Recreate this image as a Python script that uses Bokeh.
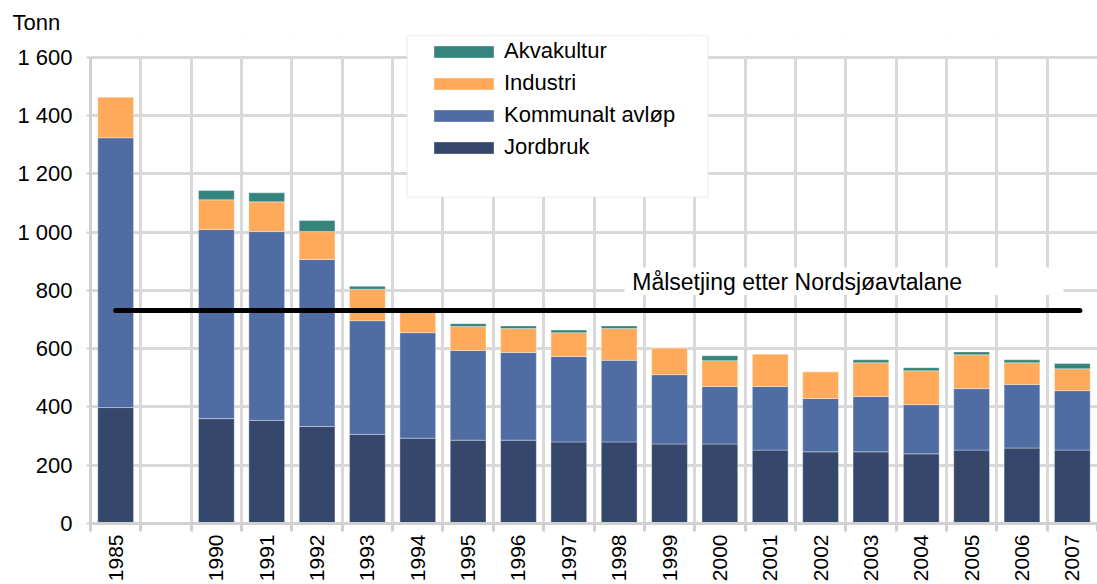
import math
from bokeh.plotting import figure
from bokeh.models import (FixedTicker, Legend, LegendItem, Label, BoxAnnotation,
                          Range1d, ColumnDataSource)
from bokeh.embed import file_html
from bokeh.resources import INLINE

# ---- data (tonn) ----
years = ["1985", "", "1990", "1991", "1992", "1993", "1994", "1995", "1996", "1997",
         "1998", "1999", "2000", "2001", "2002", "2003", "2004", "2005", "2006", "2007"]
jordbruk = [398, 0, 360, 354, 333, 306, 293, 286, 286, 280,
            280, 273, 273, 252, 246, 246, 239, 252, 259, 252]
kommunalt = [926, 0, 649, 648, 573, 390, 362, 308, 301, 293,
             280, 238, 197, 218, 183, 190, 169, 211, 218, 204]
industri = [140, 0, 102, 102, 96, 108, 71, 82, 82, 82,
            109, 92, 89, 112, 92, 116, 116, 116, 75, 75]
akvakultur = [0, 0, 32, 31, 38, 10, 0, 10, 9, 9,
              9, 0, 17, 0, 0, 10, 11, 10, 10, 18]
target = 731
target_label = "Målsetjing etter Nordsjøavtalane"
unit_label = "Tonn"
series = ["Jordbruk", "Kommunalt avløp", "Industri", "Akvakultur"]
colors = ["#35476b", "#4f6ca3", "#ffaa5a", "#35847e"]
y_ticks = [0, 200, 400, 600, 800, 1000, 1200, 1400, 1600]
y_tick_labels = ["0", "200", "400", "600", "800", "1 000", "1 200", "1 400", "1 600"]

FONT = "Liberation Sans"
GRID = "#d9d9d9"
AXIS = "#d0d0d0"

pos = list(range(len(years)))
src = ColumnDataSource(dict(x=pos, Jordbruk=jordbruk, **{"Kommunalt avløp": kommunalt},
                            Industri=industri, Akvakultur=akvakultur))

# frame: left 90, right 1097, top 34, bottom 526 ; 1600 sits at y=57
y_top = y_ticks[-1] * (526 - 34) / (526 - 57)

p = figure(width=1097, height=584, output_backend="svg", toolbar_location=None,
           x_range=Range1d(-0.5, len(years) - 0.5), y_range=Range1d(0, y_top),
           min_border_left=90, min_border_right=0, min_border_top=34, min_border_bottom=58)
p.outline_line_color = None
p.background_fill_color = "white"

# title used as the unit label
p.title.text = unit_label
p.title.text_font = FONT
p.title.text_font_size = "22px"
p.title.text_font_style = "normal"
p.title.text_color = "black"
p.title.align = "left"
p.title.offset = -78
p.title.standoff = 0

rs = p.vbar_stack(series, x="x", width=0.71, source=src, color=colors,
                  line_color="white", line_alpha=0.35, line_width=1)

p.line(x=[pos[0], pos[-1] + 0.15], y=[target, target], line_width=5,
       line_color="black", line_cap="round")

# axes / grids
xt = FixedTicker(ticks=pos, minor_ticks=[i - 0.5 for i in range(len(years) + 1)])
p.xaxis.ticker = xt
p.xgrid.ticker = xt
p.xaxis.major_label_overrides = {i: y for i, y in zip(pos, years)}
p.xgrid.grid_line_color = None
p.xgrid.minor_grid_line_color = GRID
p.xgrid.minor_grid_line_width = 3

yt = FixedTicker(ticks=y_ticks, minor_ticks=[])
p.yaxis.ticker = yt
p.ygrid.ticker = yt
p.yaxis.major_label_overrides = {t: l for t, l in zip(y_ticks, y_tick_labels)}
p.yaxis.bounds = (y_ticks[0], y_ticks[-1])
p.ygrid.grid_line_color = GRID
p.ygrid.grid_line_width = 3

# white cover above the top gridline (frame is taller to host the legend)
p.add_layout(BoxAnnotation(bottom=y_ticks[-1] + 5, fill_color="white", fill_alpha=1,
                           line_color=None, level="underlay"))

for ax in (p.xaxis[0], p.yaxis[0]):
    ax.axis_line_color = AXIS
    ax.axis_line_width = 3
    ax.major_label_text_font = FONT
    ax.major_label_text_color = "black"
    ax.minor_tick_in = 0

p.xaxis.major_label_text_font_size = "21px"
p.yaxis.major_label_text_font_size = "22px"

p.xaxis.major_tick_line_color = None
p.xaxis.major_tick_out = 0
p.xaxis.major_tick_in = 0
p.xaxis.minor_tick_line_color = AXIS
p.xaxis.minor_tick_line_width = 3
p.xaxis.minor_tick_out = 8
p.xaxis.major_label_orientation = math.pi / 2
p.xaxis.major_label_standoff = 3

p.yaxis.major_tick_line_color = AXIS
p.yaxis.major_tick_line_width = 2
p.yaxis.major_tick_out = 4
p.yaxis.major_tick_in = 0
p.yaxis.minor_tick_line_color = None
p.yaxis.major_label_standoff = 14

# legend frame
p.add_layout(BoxAnnotation(left=406.7, right=707.7, top=35, bottom=196.7,
                           left_units="canvas", right_units="canvas",
                           top_units="canvas", bottom_units="canvas",
                           fill_color="white", fill_alpha=1,
                           line_color=GRID, line_width=2, level="annotation"))

legend = Legend(items=[LegendItem(label=series[i], renderers=[rs[i]]) for i in (3, 2, 1, 0)],
                location=(336, 363), orientation="vertical",
                glyph_width=75, glyph_height=15, label_height=20,
                label_text_font=FONT, label_text_font_size="22px",
                label_text_color="black", label_standoff=3, spacing=6,
                padding=0, margin=0, border_line_color=None,
                background_fill_alpha=0)
p.add_layout(legend)

# target label with white box
p.add_layout(BoxAnnotation(left=624, right=1063, top=267, bottom=294.5,
                           left_units="canvas", right_units="canvas",
                           top_units="canvas", bottom_units="canvas",
                           fill_color="white", fill_alpha=1, line_color=None,
                           level="annotation"))
p.add_layout(Label(x=10.26, y=828, text=target_label, text_font=FONT,
                   text_font_size="23px", text_color="black",
                   text_baseline="alphabetic", text_align="left"))

open("out.html", "w").write(file_html(p, INLINE))
